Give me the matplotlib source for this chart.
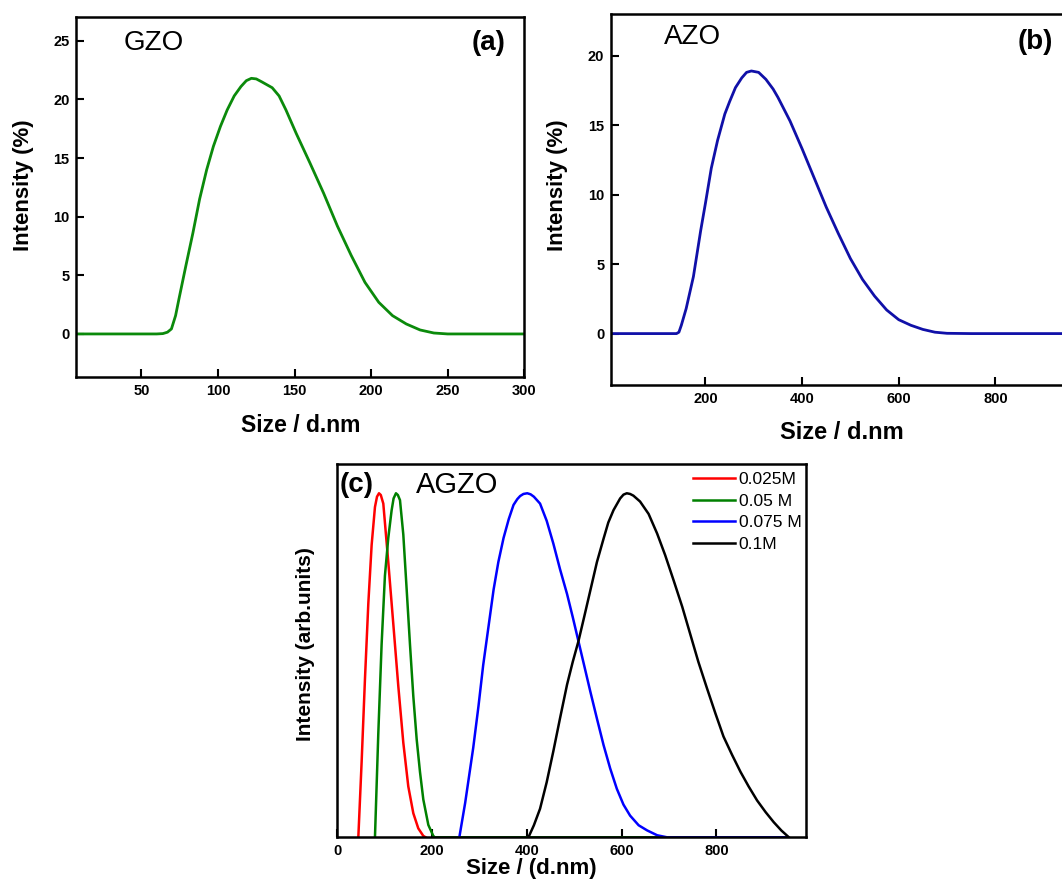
import matplotlib
matplotlib.use("Agg")
import matplotlib.pyplot as plt

plt.rcParams['font.family'] = ['Liberation Sans', 'DejaVu Sans']

# (a) GZO size distribution
gzo_size = [7.5, 60, 64, 67, 69.6, 72.3, 74.5, 79, 83.6, 88, 92.6, 97, 101.6,
            106, 110.6, 115, 118.5, 121.8, 125, 128.6, 135.4, 139.9, 144.4,
            151.1, 160, 169, 178, 187, 196, 205, 214, 223, 232, 241, 250, 300]
gzo_int = [0, 0, 0.03, 0.15, 0.43, 1.56, 2.98, 5.8, 8.6, 11.5, 14.0, 16.0,
           17.7, 19.1, 20.3, 21.1, 21.6, 21.8, 21.75, 21.5, 21.0, 20.3, 19.1,
           17.1, 14.6, 12.0, 9.2, 6.7, 4.4, 2.7, 1.56, 0.85, 0.34, 0.08, 0, 0]

# (b) AZO size distribution
azo_size = [5, 140, 145, 150, 160, 175, 190, 200, 212, 225, 240, 250, 262,
            275, 285, 295, 310, 325, 340, 350, 375, 400, 425, 450, 475, 500,
            525, 550, 575, 600, 625, 650, 675, 700, 750, 1000]
azo_int = [0, 0, 0.1, 0.6, 1.8, 4.1, 7.4, 9.4, 11.9, 13.9, 15.8, 16.7, 17.7,
           18.4, 18.8, 18.9, 18.8, 18.3, 17.6, 17.0, 15.3, 13.3, 11.2, 9.1,
           7.2, 5.4, 3.9, 2.7, 1.7, 1.0, 0.6, 0.3, 0.1, 0.02, 0, 0]

# (c) AGZO, normalised intensities
red_size = [44.6, 51.6, 58.6, 65.7, 72.7, 79.7, 84, 88.2, 92, 97.3, 107.8,
            118.4, 128.9, 139.5, 150, 160.6, 171.1, 181.7, 186.7]
red_int = [0, 0.22, 0.46, 0.68, 0.85, 0.96, 0.99, 1.0, 0.995, 0.97, 0.80,
           0.62, 0.44, 0.275, 0.148, 0.07, 0.026, 0.004, 0]

green_size = [79.7, 86.7, 93.7, 100.7, 107.8, 114.8, 119, 124, 128, 132.5,
              139.5, 146.6, 153.6, 160.6, 167.7, 174.7, 181.7, 192.3, 202.8,
              206, 400, 690]
green_int = [0, 0.30, 0.56, 0.76, 0.87, 0.95, 0.985, 1.0, 0.995, 0.98, 0.88,
             0.72, 0.56, 0.41, 0.285, 0.19, 0.11, 0.036, 0.004, 0, 0, 0]

blue_size = [257.7, 270, 287, 298, 308, 319, 330, 340, 351, 362, 372, 380,
             386, 393, 401, 408, 415, 428, 442, 456, 470, 485, 497, 509, 521,
             534, 548, 562, 576, 590, 604, 618, 636, 654, 675, 696, 950]
blue_int = [0, 0.10, 0.26, 0.38, 0.50, 0.61, 0.72, 0.80, 0.87, 0.925, 0.966,
            0.983, 0.992, 0.998, 1.0, 0.997, 0.99, 0.97, 0.92, 0.854, 0.78,
            0.707, 0.64, 0.57, 0.50, 0.424, 0.345, 0.268, 0.20, 0.141, 0.095,
            0.063, 0.035, 0.02, 0.006, 0, 0]

black_size = [403.5, 415, 428, 442, 456, 470, 485, 497, 509, 521, 534, 548,
              562, 572, 583, 597, 604, 611, 618, 625, 639, 657, 675, 692, 710,
              728, 745, 762, 780, 798, 815, 833, 851, 868, 886, 904, 921, 937,
              953]
black_int = [0, 0.035, 0.083, 0.16, 0.25, 0.345, 0.444, 0.51, 0.57, 0.64,
             0.717, 0.80, 0.868, 0.915, 0.951, 0.985, 0.996, 1.0, 0.998,
             0.993, 0.976, 0.94, 0.883, 0.82, 0.746, 0.67, 0.59, 0.51, 0.434,
             0.36, 0.293, 0.24, 0.19, 0.148, 0.107, 0.073, 0.044, 0.02, 0]

agzo_labels = ['0.025M', '0.05 M', '0.075 M', '0.1M']

fig = plt.figure(figsize=(10.62, 8.81), dpi=100)


def style_axes(ax):
    for sp in ax.spines.values():
        sp.set_linewidth(1.8)
    ax.tick_params(direction='in', length=6, width=1.5, labelsize=10.5,
                   top=False, right=False, pad=5)
    for lab in ax.get_xticklabels() + ax.get_yticklabels():
        lab.set_fontweight('bold')


# panel (a)
ax1 = fig.add_axes([0.0719, 0.5717, 0.4217, 0.4086])
ax1.plot(gzo_size, gzo_int, color='#0b8a0b', lw=2.0)
ax1.set_xlim(7.5, 300)
ax1.set_ylim(-3.7, 27)
ax1.set_xticks([50, 100, 150, 200, 250, 300])
ax1.set_yticks([0, 5, 10, 15, 20, 25])
ax1.set_xlabel('Size / d.nm', fontsize=16.5, fontweight='bold', va='center')
ax1.set_ylabel('Intensity (%)', fontsize=16, fontweight='bold', va='center')
ax1.xaxis.set_label_coords(0.5, -0.1325)
ax1.yaxis.set_label_coords(-0.117, 0.534)
ax1.text(0.106, 0.929, 'GZO', transform=ax1.transAxes, fontsize=20,
         va='center', ha='left')
ax1.text(0.959, 0.929, '(a)', transform=ax1.transAxes, fontsize=20,
         fontweight='bold', va='center', ha='right')
style_axes(ax1)

# panel (b), cut off at the right edge like the reference
ax2 = fig.add_axes([0.5756, 0.5630, 0.4526, 0.4211])
ax2.plot(azo_size, azo_int, color='#1010a8', lw=2.0)
ax2.set_xlim(5, 1000)
ax2.set_ylim(-3.7, 23)
ax2.set_xticks([200, 400, 600, 800])
ax2.set_yticks([0, 5, 10, 15, 20])
ax2.set_xlabel('Size / d.nm', fontsize=17, fontweight='bold', va='center')
ax2.set_ylabel('Intensity (%)', fontsize=16, fontweight='bold', va='center')
ax2.xaxis.set_label_coords(0.479, -0.127)
ax2.yaxis.set_label_coords(-0.111, 0.538)
ax2.text(0.110, 0.938, 'AZO', transform=ax2.transAxes, fontsize=20,
         va='center', ha='left')
ax2.text(0.846, 0.925, '(b)', transform=ax2.transAxes, fontsize=20,
         fontweight='bold', va='center', ha='left')
style_axes(ax2)

# panel (c)
ax3 = fig.add_axes([0.3175, 0.0496, 0.4414, 0.4237])
ax3.plot(red_size, red_int, color='#ff0000', lw=1.8, label=agzo_labels[0])
ax3.plot(green_size, green_int, color='#008000', lw=1.8, label=agzo_labels[1])
ax3.plot(blue_size, blue_int, color='#0000ff', lw=1.8, label=agzo_labels[2])
ax3.plot(black_size, black_int, color='black', lw=1.8, label=agzo_labels[3])
ax3.set_xlim(0, 989)
ax3.set_ylim(0, 1.085)
ax3.set_xticks([0, 200, 400, 600, 800])
ax3.set_yticks([])
ax3.set_xlabel('Size / (d.nm)', fontsize=16, fontweight='bold', va='center')
ax3.set_ylabel('Intensity (arb.units)', fontsize=15, fontweight='bold',
               va='center')
ax3.xaxis.set_label_coords(0.414, -0.084)
ax3.yaxis.set_label_coords(-0.0666, 0.518)
ax3.text(0.006, 0.944, '(c)', transform=ax3.transAxes, fontsize=20,
         fontweight='bold', va='center', ha='left')
ax3.text(0.168, 0.944, 'AGZO', transform=ax3.transAxes, fontsize=21,
         va='center', ha='left')
ax3.legend(loc='upper left', frameon=False, fontsize=12.5, handlelength=2.4,
           handletextpad=0.23, labelspacing=0.37, borderpad=0,
           borderaxespad=0, bbox_to_anchor=(0.759, 0.979))
style_axes(ax3)

plt.savefig('out.png', dpi=100)
